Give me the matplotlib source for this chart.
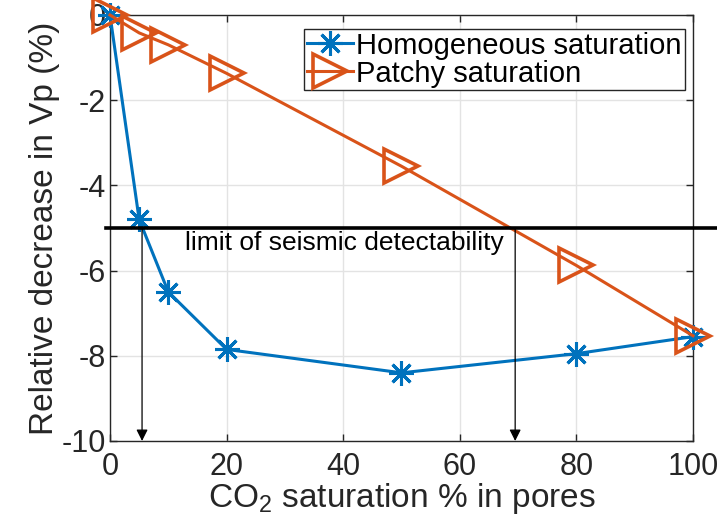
import matplotlib.pyplot as plt
import numpy as np

plt.rcParams['font.family'] = ['Liberation Sans', 'DejaVu Sans']
plt.rcParams['mathtext.fontset'] = 'custom'
plt.rcParams['mathtext.rm'] = 'Liberation Sans'
plt.rcParams['mathtext.it'] = 'Liberation Sans:italic'
plt.rcParams['axes.unicode_minus'] = False

# data
co2 = [0, 5, 10, 20, 50, 80, 100]
homog = [0, -4.8, -6.5, -7.85, -8.4, -7.95, -7.55]
patchy = [0, -0.42, -0.7, -1.37, -3.55, -5.88, -7.53]
limit = -5
cross_x = [5.5, 69.5]
xticks = [0, 20, 40, 60, 80, 100]
yticks = [0, -2, -4, -6, -8, -10]

blue = '#0072BD'
orange = '#D95319'
dark = '#262626'

fig = plt.figure(figsize=(7.17, 5.28), dpi=100)
ax = fig.add_axes([0.1534, 0.1648, 0.8131, 0.8068])

ax.plot(co2, homog, color=blue, lw=2.2, marker=(8, 2, 0), ms=18, mew=2.2,
        label='Homogeneous saturation', zorder=3, clip_on=False)
ax.plot(co2, patchy, color=orange, lw=2.2, marker='>', ms=24, mew=2.6,
        mfc='none', label='Patchy saturation', zorder=3, clip_on=False)

# seismic limit line, runs past the axes
ax.plot([-0.6, 110], [limit, limit], color='black', lw=2.6, clip_on=False, zorder=4)
ax.text(12.8, limit - 0.36, 'limit of seismic detectability', fontsize=19,
        va='center', ha='left')
for xc in cross_x:
    ax.annotate('', xy=(xc, -10), xytext=(xc, limit),
                arrowprops=dict(arrowstyle='-|>', color='black', lw=0.9,
                                mutation_scale=17, shrinkA=0, shrinkB=0))

ax.set_xlim(0, 100)
ax.set_ylim(-10, 0)
ax.set_xticks(xticks)
ax.set_yticks(yticks)
ax.grid(True, color='#e3e3e3', lw=1)
ax.set_axisbelow(True)
ax.tick_params(direction='in', top=True, right=True, length=5, width=1,
               colors=dark, labelsize=22)
ax.tick_params(axis='x', pad=8)
ax.tick_params(axis='y', pad=3)
for s in ax.spines.values():
    s.set_color(dark)
    s.set_linewidth(1)

ax.set_xlabel(r'CO$_2$ saturation % in pores', fontsize=24, color=dark, labelpad=-1)
ax.set_ylabel('Relative decrease in Vp (%)', fontsize=24, color=dark, labelpad=1)

leg = ax.legend(loc='upper right', bbox_to_anchor=(0.986, 0.968), fontsize=21,
                handlelength=1.6, handletextpad=0.1, labelspacing=0.0,
                borderpad=0.1, borderaxespad=0, fancybox=False,
                edgecolor=dark, framealpha=1)
leg.get_frame().set_linewidth(1)

plt.savefig('out.png', dpi=100)
